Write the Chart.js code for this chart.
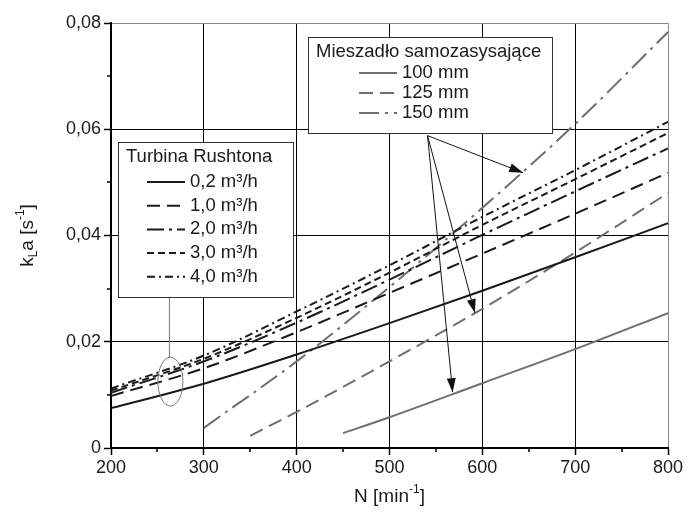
<!DOCTYPE html>
<html>
<head>
<meta charset="utf-8">
<script src="https://cdn.jsdelivr.net/npm/chart.js@4.4.1/dist/chart.umd.min.js"></script>
<style>
  html, body { margin: 0; padding: 0; background: #fff; }
  #wrap { width: 688px; height: 515px; }
</style>
</head>
<body>
<div id="wrap"><canvas id="chart"></canvas></div>
<script>
// N [min-1] for the turbine curves
const rpm = [200, 300, 400, 500, 600, 700, 800];
const turbine02 = [0.0075, 0.0121, 0.0176, 0.0235, 0.0296, 0.0359, 0.0423];
const turbine10 = [0.0098, 0.0150, 0.0218, 0.0292, 0.0366, 0.0441, 0.0518];
const turbine20 = [0.0104, 0.0163, 0.0236, 0.0317, 0.0401, 0.0483, 0.0564];
const turbine30 = [0.0108, 0.0168, 0.0245, 0.0330, 0.0420, 0.0506, 0.0593];
const turbine40 = [0.0112, 0.0174, 0.0257, 0.0344, 0.0435, 0.0523, 0.0614];

// self-aspirating impeller curves
const rpm100 = [450, 500, 600, 700, 800];
const mixer100 = [0.0028, 0.0058, 0.0122, 0.0186, 0.0254];
const rpm125 = [350, 400, 500, 600, 700, 800];
const mixer125 = [0.0023, 0.0068, 0.0163, 0.0262, 0.0368, 0.0480];
const rpm150 = [300, 400, 500, 600, 700, 800];
const mixer150 = [0.0038, 0.0163, 0.0303, 0.0452, 0.0610, 0.0783];

const turbineLabels = ['0,2 m³/h', '1,0 m³/h', '2,0 m³/h', '3,0 m³/h', '4,0 m³/h'];
const mixerLabels = ['100 mm', '125 mm', '150 mm'];

const FONT = '"Liberation Sans", Arial, Helvetica, sans-serif';
const INK = '#1a1a1a';
const GREY = '#6f6f6f';

const pts = (xs, ys) => xs.map((x, i) => ({x: x, y: ys[i]}));

const line = (label, xs, ys, color, dash, group) => ({
    label: label,
    data: pts(xs, ys),
    borderColor: color,
    borderWidth: 2,
    borderDash: dash,
    pointRadius: 0,
    cubicInterpolationMode: 'monotone',
    fill: false,
    group: group
});

const datasets = [
    line(turbineLabels[0], rpm, turbine02, INK, [], 't'),
    line(turbineLabels[1], rpm, turbine10, INK, [13, 7], 't'),
    line(turbineLabels[2], rpm, turbine20, INK, [17, 5, 3, 5], 't'),
    line(turbineLabels[3], rpm, turbine30, INK, [7, 4], 't'),
    line(turbineLabels[4], rpm, turbine40, INK, [8, 4, 2, 4], 't'),
    line(mixerLabels[0], rpm100, mixer100, GREY, [], 'm'),
    line(mixerLabels[1], rpm125, mixer125, GREY, [14, 7], 'm'),
    line(mixerLabels[2], rpm150, mixer150, GREY, [20, 6, 3, 6], 'm')
];

// annotations in data units
const arrowFrom = {x: 541, y: 0.0588};
const arrowTo = [{x: 644, y: 0.0518}, {x: 592, y: 0.0254}, {x: 568, y: 0.0105}];
const ring = {x: 264, y: 0.0125, rx: 13.5, ry: 0.0046};

function richText(ctx, parts, cx, cy) {
    // parts: [text, 'n'|'sub'|'sup']
    const big = '19px ' + FONT, small = '12px ' + FONT;
    let w = 0;
    parts.forEach(p => { ctx.font = p[1] === 'n' ? big : small; w += ctx.measureText(p[0]).width; });
    let x = cx - w / 2;
    ctx.textBaseline = 'middle';
    ctx.textAlign = 'left';
    parts.forEach(p => {
        ctx.font = p[1] === 'n' ? big : small;
        const dy = p[1] === 'sub' ? 6 : p[1] === 'sup' ? -7 : 0;
        ctx.fillText(p[0], x, cy + dy);
        x += ctx.measureText(p[0]).width;
    });
}

function drawLegend(ctx, sets, title, box, rowY, sampleX, textX) {
    ctx.save();
    ctx.fillStyle = '#fff';
    ctx.fillRect(box.x, box.y, box.w, box.h);
    ctx.strokeStyle = '#333';
    ctx.lineWidth = 1;
    ctx.strokeRect(box.x + 0.5, box.y + 0.5, box.w, box.h);
    ctx.fillStyle = INK;
    ctx.font = '18.5px ' + FONT;
    ctx.textBaseline = 'middle';
    ctx.textAlign = 'left';
    ctx.fillText(title, box.x + 8, box.y + 15);
    sets.forEach((ds, i) => {
        const y = rowY[0] + i * rowY[1];
        ctx.strokeStyle = ds.borderColor;
        ctx.lineWidth = 2;
        ctx.setLineDash(ds.borderDash);
        ctx.beginPath();
        ctx.moveTo(sampleX[0], y);
        ctx.lineTo(sampleX[1], y);
        ctx.stroke();
        ctx.setLineDash([]);
        ctx.fillText(ds.label, textX, y);
    });
    ctx.restore();
}

const decor = {
    id: 'decor',
    afterDatasetsDraw(chart) {
        const ctx = chart.ctx, xs = chart.scales.x, ys = chart.scales.y;
        const a = chart.chartArea;

        // minor ticks
        ctx.save();
        ctx.strokeStyle = '#000';
        ctx.lineWidth = 1.5;
        ctx.beginPath();
        for (let v = 250; v < 800; v += 100) {
            const px = Math.round(xs.getPixelForValue(v));
            ctx.moveTo(px, a.bottom);
            ctx.lineTo(px, a.bottom + 4);
        }
        for (let k = 1; k < 8; k += 2) {
            const py = Math.round(ys.getPixelForValue(k / 100));
            ctx.moveTo(a.left, py);
            ctx.lineTo(a.left - 4, py);
        }
        ctx.stroke();
        ctx.restore();

        const sets = chart.data.datasets;
        const tBox = {x: a.left + 7, y: a.top + 119, w: 175, h: 155};
        drawLegend(ctx, sets.filter(d => d.group === 't'), 'Turbina Rushtona',
            tBox, [a.top + 159, 23.7], [a.left + 36, a.left + 74], a.left + 79);
        const mBox = {x: a.left + 197, y: a.top + 14, w: 244, h: 96};
        drawLegend(ctx, sets.filter(d => d.group === 'm'), 'Mieszadło samozasysające',
            mBox, [a.top + 50, 20], [a.left + 248, a.left + 286], a.left + 291);

        // ellipse around the turbine curves + connector to legend
        ctx.save();
        const cx = xs.getPixelForValue(ring.x), cy = ys.getPixelForValue(ring.y);
        const rx = xs.getPixelForValue(ring.x + ring.rx) - cx;
        const ry = cy - ys.getPixelForValue(ring.y + ring.ry);
        ctx.strokeStyle = '#777';
        ctx.lineWidth = 1;
        ctx.beginPath();
        ctx.ellipse(cx, cy, rx, ry, 0, 0, Math.PI * 2);
        ctx.stroke();
        ctx.beginPath();
        ctx.moveTo(cx - 1, cy - ry);
        ctx.lineTo(cx - 1, tBox.y + tBox.h + 1);
        ctx.stroke();

        // arrows from the mixer legend
        const sx = xs.getPixelForValue(arrowFrom.x), sy = ys.getPixelForValue(arrowFrom.y);
        ctx.strokeStyle = '#111';
        ctx.fillStyle = '#111';
        arrowTo.forEach(p => {
            const ex = xs.getPixelForValue(p.x), ey = ys.getPixelForValue(p.y);
            const ang = Math.atan2(ey - sy, ex - sx);
            const len = 14, half = 4.5;
            ctx.beginPath();
            ctx.moveTo(sx, sy);
            ctx.lineTo(ex, ey);
            ctx.stroke();
            ctx.beginPath();
            ctx.moveTo(ex, ey);
            ctx.lineTo(ex - len * Math.cos(ang) + half * Math.sin(ang), ey - len * Math.sin(ang) - half * Math.cos(ang));
            ctx.lineTo(ex - len * Math.cos(ang) - half * Math.sin(ang), ey - len * Math.sin(ang) + half * Math.cos(ang));
            ctx.closePath();
            ctx.fill();
        });
        ctx.restore();
    },
    afterDraw(chart) {
        const ctx = chart.ctx, a = chart.chartArea;
        ctx.save();
        ctx.fillStyle = INK;
        richText(ctx, [['N [min', 'n'], ['-1', 'sup'], [']', 'n']], (a.left + a.right) / 2, 497);
        ctx.translate(28, (a.top + a.bottom) / 2);
        ctx.rotate(-Math.PI / 2);
        richText(ctx, [['k', 'n'], ['L', 'sub'], ['a [s', 'n'], ['-1', 'sup'], [']', 'n']], 0, 0);
        ctx.restore();
    }
};

Chart.defaults.font.family = FONT;
Chart.defaults.font.size = 18;
Chart.defaults.color = INK;

new Chart(document.getElementById('chart'), {
    type: 'line',
    data: { datasets: datasets },
    options: {
        responsive: true,
        maintainAspectRatio: false,
        animation: false,
        events: [],
        layout: { padding: { top: 23, right: 20, left: 0, bottom: 0 } },
        plugins: { legend: { display: false }, tooltip: { enabled: false } },
        scales: {
            x: {
                type: 'linear',
                min: 200,
                max: 800,
                afterFit: s => { s.height = 67; },
                ticks: {
                    stepSize: 50,
                    padding: 2,
                    maxRotation: 0,
                    autoSkip: false,
                    callback: v => (v % 100 === 0 ? String(v) : '')
                },
                grid: {
                    lineWidth: 1,
                    tickLength: 7,
                    color: c => (c.tick.value % 100 !== 0 ? 'rgba(0,0,0,0)' : c.tick.value === 800 ? '#8a8a8a' : '#000'),
                    tickColor: c => (c.tick.value % 100 !== 0 ? 'rgba(0,0,0,0)' : '#000'),
                    tickWidth: 1.5
                },
                border: { display: true, color: '#000', width: 2 }
            },
            y: {
                min: 0,
                max: 0.08,
                afterFit: s => { s.width = 111; },
                ticks: {
                    stepSize: 0.01,
                    padding: 3,
                    autoSkip: false,
                    callback: v => {
                        const k = Math.round(v * 100);
                        if (k % 2) return '';
                        return k === 0 ? '0' : (k / 100).toFixed(2).replace('.', ',');
                    }
                },
                grid: {
                    lineWidth: 1,
                    tickLength: 7,
                    color: c => {
                        const k = Math.round(c.tick.value * 100);
                        return k % 2 ? 'rgba(0,0,0,0)' : k === 8 ? '#8a8a8a' : '#000';
                    },
                    tickColor: c => (Math.round(c.tick.value * 100) % 2 ? 'rgba(0,0,0,0)' : '#000'),
                    tickWidth: 1.5
                },
                border: { display: true, color: '#000', width: 2 }
            }
        }
    },
    plugins: [decor]
});
</script>
</body>
</html>
